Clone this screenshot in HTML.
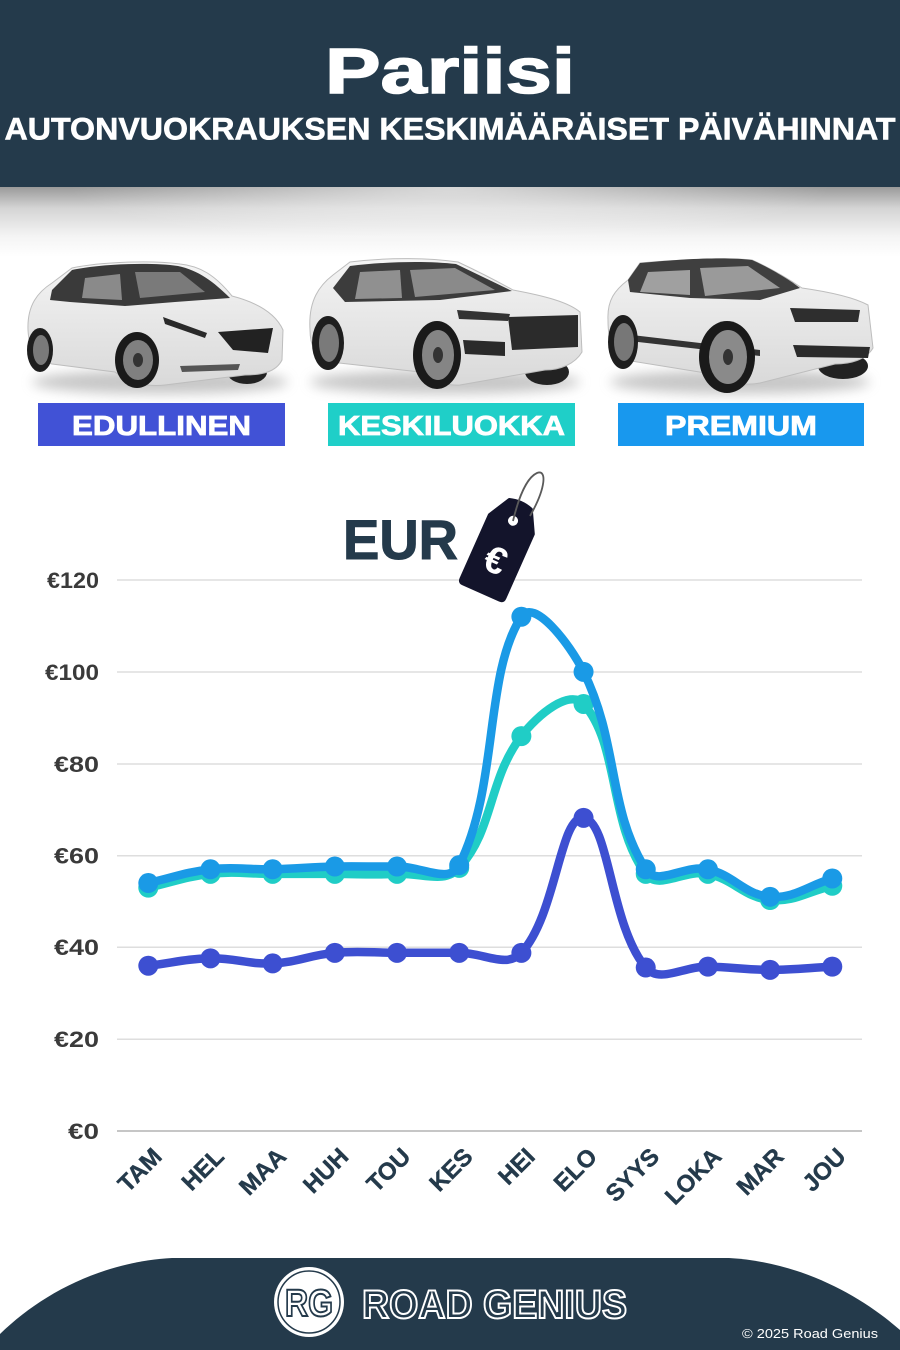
<!DOCTYPE html>
<html>
<head>
<meta charset="utf-8">
<style>
  html,body{margin:0;padding:0;background:#fff;}
  body{width:900px;height:1350px;overflow:hidden;}
  svg{display:block;}
  text{font-family:"Liberation Sans",sans-serif;}
</style>
</head>
<body>
<svg id="s" width="900" height="1350" viewBox="0 0 900 1350" xmlns="http://www.w3.org/2000/svg">
  <defs>
    <linearGradient id="shade" x1="0" y1="0" x2="0" y2="1">
      <stop offset="0" stop-color="#9a9a9a"/>
      <stop offset="0.3" stop-color="#d4d4d4"/>
      <stop offset="0.7" stop-color="#f4f4f4"/>
      <stop offset="1" stop-color="#ffffff"/>
    </linearGradient>
    <radialGradient id="hl" cx="0.5" cy="0.5" r="0.5">
      <stop offset="0" stop-color="#fff" stop-opacity="0.6"/>
      <stop offset="1" stop-color="#fff" stop-opacity="0"/>
    </radialGradient>
    <clipPath id="shclip"><rect x="0" y="187" width="900" height="70"/></clipPath>
    <linearGradient id="body" x1="0" y1="0" x2="0" y2="1">
      <stop offset="0" stop-color="#f4f4f4"/>
      <stop offset="1" stop-color="#d9d9d9"/>
    </linearGradient>
    <filter id="blur6" x="-20%" y="-100%" width="140%" height="300%"><feGaussianBlur stdDeviation="6"/></filter>
  </defs>

  <!-- Header -->
  <rect x="0" y="0" width="900" height="187" fill="#243a4b"/>
  <rect x="0" y="187" width="900" height="70" fill="url(#shade)"/>
  <g clip-path="url(#shclip)">
    <ellipse cx="450" cy="187" rx="380" ry="60" fill="url(#hl)"/>
  </g>
  <text x="450" y="93" text-anchor="middle" font-size="64" font-weight="bold" fill="#ffffff" stroke="#ffffff" stroke-width="1.5" textLength="250" lengthAdjust="spacingAndGlyphs">Pariisi</text>
  <text x="4.5" y="139.5" font-size="31.5" font-weight="bold" fill="#ffffff" stroke="#ffffff" stroke-width="0.6" textLength="891" lengthAdjust="spacingAndGlyphs">AUTONVUOKRAUKSEN KESKIMÄÄRÄISET PÄIVÄHINNAT</text>

  <!-- Car 1 -->
  <g>
    <ellipse cx="160" cy="382" rx="128" ry="12" fill="#999" opacity="0.55" filter="url(#blur6)"/>
    <ellipse cx="247" cy="372" rx="20" ry="12" fill="#222"/>
    <path d="M28,330 C27,305 38,292 52,283 L72,268 C100,262 150,260 180,264 C200,266 215,275 232,296 C255,302 275,312 283,330 L282,360 C276,372 262,375 245,375 L165,385 C148,387 128,383 115,372 L52,364 C36,360 29,350 28,330 Z" fill="url(#body)" stroke="#bdbdbd" stroke-width="1"/>
    <path d="M52,290 L72,270 C100,264 150,262 178,266 C198,270 214,282 230,298 L175,302 L125,306 L70,302 L50,300 Z" fill="#3a3a3a"/>
    <path d="M85,278 L120,274 L122,300 L82,298 Z" fill="#8a8a8a"/>
    <path d="M135,272 L180,272 L205,292 L140,298 Z" fill="#7a7a7a"/>
    <path d="M218,332 L273,328 L268,353 L233,350 Z" fill="#222"/>
    <path d="M163,317 L207,333 L205,338 L165,324 Z" fill="#2a2a2a"/>
    <path d="M180,366 L240,364 L238,370 L182,372 Z" fill="#555"/>
    <ellipse cx="40" cy="350" rx="13" ry="22" fill="#1e1e1e"/>
    <ellipse cx="41" cy="350" rx="8" ry="15" fill="#7a7a7a"/>
    <ellipse cx="137" cy="360" rx="22" ry="28" fill="#1a1a1a"/>
    <ellipse cx="138" cy="360" rx="15" ry="20" fill="#808080"/>
    <ellipse cx="138" cy="360" rx="5" ry="7" fill="#333"/>
  </g>

  <!-- Car 2 -->
  <g>
    <ellipse cx="445" cy="382" rx="135" ry="12" fill="#999" opacity="0.55" filter="url(#blur6)"/>
    <ellipse cx="547" cy="372" rx="22" ry="13" fill="#222"/>
    <path d="M310,330 C308,300 320,285 333,275 L350,262 C390,257 430,258 458,262 C475,270 495,280 513,290 C545,296 568,302 580,312 L582,352 C575,364 560,370 545,370 L460,385 C445,386 430,380 420,372 L330,362 C315,356 310,345 310,330 Z" fill="url(#body)" stroke="#bdbdbd" stroke-width="1"/>
    <path d="M333,288 L350,266 C390,261 430,261 456,264 L512,291 L440,300 L345,302 Z" fill="#3c3c3c"/>
    <path d="M360,272 L400,270 L402,298 L355,299 Z" fill="#909090"/>
    <path d="M410,270 L455,268 L495,290 L415,297 Z" fill="#8a8a8a"/>
    <path d="M508,317 L578,315 L578,347 L512,350 Z" fill="#2b2b2b"/>
    <path d="M457,310 L510,314 L508,321 L459,319 Z" fill="#333"/>
    <path d="M463,340 L505,342 L505,356 L465,354 Z" fill="#2a2a2a"/>
    <ellipse cx="328" cy="343" rx="16" ry="27" fill="#1e1e1e"/>
    <ellipse cx="329" cy="343" rx="10" ry="19" fill="#7a7a7a"/>
    <ellipse cx="437" cy="355" rx="24" ry="34" fill="#1a1a1a"/>
    <ellipse cx="438" cy="355" rx="16" ry="25" fill="#858585"/>
    <ellipse cx="438" cy="355" rx="5" ry="8" fill="#333"/>
  </g>

  <!-- Car 3 -->
  <g>
    <ellipse cx="740" cy="382" rx="130" ry="12" fill="#999" opacity="0.55" filter="url(#blur6)"/>
    <ellipse cx="843" cy="366" rx="25" ry="13" fill="#222"/>
    <path d="M608,320 C607,300 615,290 628,280 L640,263 C690,259 730,258 752,260 C770,268 790,280 802,288 C830,292 855,298 868,305 L873,348 C866,360 850,364 835,364 L760,383 C745,386 730,383 718,375 L625,360 C612,352 608,340 608,320 Z" fill="url(#body)" stroke="#bdbdbd" stroke-width="1"/>
    <path d="M628,280 L640,263 C690,258 730,257 752,260 C770,268 790,280 800,288 L760,300 L690,298 L630,292 Z" fill="#3f3f3f"/>
    <path d="M648,272 L690,270 L690,295 L640,292 Z" fill="#a0a0a0"/>
    <path d="M700,268 L748,266 L780,288 L705,296 Z" fill="#9a9a9a"/>
    <path d="M790,308 L860,310 L858,322 L795,322 Z" fill="#2e2e2e"/>
    <path d="M793,345 L870,347 L868,358 L797,357 Z" fill="#2a2a2a"/>
    <path d="M632,335 L760,350 L760,356 L630,341 Z" fill="#333"/>
    <ellipse cx="623" cy="342" rx="15" ry="27" fill="#1e1e1e"/>
    <ellipse cx="624" cy="342" rx="10" ry="19" fill="#777"/>
    <ellipse cx="727" cy="357" rx="28" ry="36" fill="#1a1a1a"/>
    <ellipse cx="728" cy="357" rx="19" ry="27" fill="#8a8a8a"/>
    <ellipse cx="728" cy="357" rx="5" ry="8" fill="#333"/>
  </g>

  <!-- Legend boxes -->
  <rect x="38" y="403" width="247" height="43" fill="#4152d6"/>
  <text x="161.5" y="435" text-anchor="middle" font-size="28" font-weight="bold" fill="#fff" stroke="#fff" stroke-width="0.8" textLength="179" lengthAdjust="spacingAndGlyphs">EDULLINEN</text>
  <rect x="328" y="403" width="247" height="43" fill="#1fcfc8"/>
  <text x="451.5" y="435" text-anchor="middle" font-size="28" font-weight="bold" fill="#fff" stroke="#fff" stroke-width="0.8" textLength="227" lengthAdjust="spacingAndGlyphs">KESKILUOKKA</text>
  <rect x="618" y="403" width="246" height="43" fill="#1898ee"/>
  <text x="741" y="435" text-anchor="middle" font-size="28" font-weight="bold" fill="#fff" stroke="#fff" stroke-width="0.8" textLength="152" lengthAdjust="spacingAndGlyphs">PREMIUM</text>

  <!-- Grid -->
  <g stroke="#dedede" stroke-width="1.5">
    <line x1="117" y1="580" x2="862" y2="580"/>
    <line x1="117" y1="672" x2="862" y2="672"/>
    <line x1="117" y1="764" x2="862" y2="764"/>
    <line x1="117" y1="855.7" x2="862" y2="855.7"/>
    <line x1="117" y1="947.3" x2="862" y2="947.3"/>
    <line x1="117" y1="1039.2" x2="862" y2="1039.2"/>
  </g>
  <line x1="117" y1="1131" x2="862" y2="1131" stroke="#c6c6c6" stroke-width="2"/>

  <g font-size="22" font-weight="bold" fill="#3a3a3a" text-anchor="end">
    <text x="99" y="588" textLength="52" lengthAdjust="spacingAndGlyphs">€120</text>
    <text x="99" y="680" textLength="54" lengthAdjust="spacingAndGlyphs">€100</text>
    <text x="99" y="772" textLength="45" lengthAdjust="spacingAndGlyphs">€80</text>
    <text x="99" y="863.5" textLength="45" lengthAdjust="spacingAndGlyphs">€60</text>
    <text x="99" y="955" textLength="45" lengthAdjust="spacingAndGlyphs">€40</text>
    <text x="99" y="1047" textLength="45" lengthAdjust="spacingAndGlyphs">€20</text>
    <text x="99" y="1139" textLength="31" lengthAdjust="spacingAndGlyphs">€0</text>
  </g>

  <!-- EUR tag -->
  <text x="343" y="559" font-size="56" font-weight="bold" fill="#243a4b" stroke="#243a4b" stroke-width="1" textLength="115" lengthAdjust="spacingAndGlyphs">EUR</text>
  <g transform="translate(500,550) rotate(24)">
    <path d="M-24,-28 L-12,-50 Q0,-54 12,-50 L24,-28 L24,42 Q24,46 20,46 L-20,46 Q-24,46 -24,42 Z" fill="#13142b" stroke="#13142b" stroke-width="3" stroke-linejoin="round"/>
    <circle cx="0" cy="-32" r="5" fill="#fff"/>
    <text x="0" y="24" text-anchor="middle" font-size="38" font-weight="bold" fill="#fff">€</text>
  </g>
  <path d="M513,521 C518,500 526,478 537,473 C547,469 546,488 530,516" fill="none" stroke="#5a5a5a" stroke-width="1.8"/>

  <!-- Series -->
  <g id="series" fill="none" stroke-linecap="round" stroke-linejoin="round"></g>

  <!-- X labels -->
  <g id="xl" font-size="24" font-weight="bold" fill="#243a4b" stroke="#243a4b" stroke-width="0.4" text-anchor="end"></g>

  <!-- Footer -->
  <path d="M0,1350 L0,1334 C40,1295 100,1262 172,1258 L729,1258 C800,1262 860,1295 900,1330 L900,1350 Z" fill="#243a4b"/>
  <circle cx="309" cy="1302" r="35" fill="#ffffff"/>
  <circle cx="309" cy="1302" r="31" fill="none" stroke="#243a4b" stroke-width="1.5"/>
  <text x="309" y="1316" text-anchor="middle" font-size="38" font-weight="bold" fill="#ffffff" stroke="#243a4b" stroke-width="2" textLength="48" lengthAdjust="spacingAndGlyphs">RG</text>
  <text x="362" y="1318" font-size="40" font-weight="bold" fill="#243a4b" stroke="#ffffff" stroke-width="2" textLength="265" lengthAdjust="spacingAndGlyphs">ROAD GENIUS</text>
  <text x="742" y="1338" font-size="13" fill="#ffffff" textLength="136" lengthAdjust="spacingAndGlyphs">© 2025 Road Genius</text>
</svg>
<script>
(function(){
  var NS="http://www.w3.org/2000/svg";
  var X0=148.3, DX=62.18, Y0=1131, K=4.5917, T=0.4;
  var series=[
    {c:"#3d4fd1", v:[36,37.6,36.5,38.8,38.8,38.8,38.8,68.2,35.6,35.8,35.1,35.8]},
    {c:"#20cdc6", v:[53,56,56,56,56,57.3,86,93,56,56,50.3,53.4]},
    {c:"#1a9ae6", v:[54,57,57,57.6,57.6,57.9,112,100,57,57,51,55]}
  ];
  var g=document.getElementById("series");
  function el(n,a){var e=document.createElementNS(NS,n);for(var k in a)e.setAttribute(k,a[k]);return e;}
  series.forEach(function(s){
    var p=s.v.map(function(v,i){return [X0+i*DX, Y0-v*K];});
    var cps=p.map(function(cur,i){
      var prev=p[i-1]||cur, next=p[i+1]||cur;
      var d01=Math.hypot(cur[0]-prev[0],cur[1]-prev[1]);
      var d12=Math.hypot(next[0]-cur[0],next[1]-cur[1]);
      var s01=d01/(d01+d12), s12=d12/(d01+d12);
      if(isNaN(s01))s01=0; if(isNaN(s12))s12=0;
      var fa=T*s01, fb=T*s12;
      return {
        p:[cur[0]-fa*(next[0]-prev[0]), cur[1]-fa*(next[1]-prev[1])],
        n:[cur[0]+fb*(next[0]-prev[0]), cur[1]+fb*(next[1]-prev[1])]
      };
    });
    var d="M"+p[0][0].toFixed(1)+","+p[0][1].toFixed(1);
    for(var i=0;i<p.length-1;i++){
      d+=" C"+cps[i].n[0].toFixed(1)+","+cps[i].n[1].toFixed(1)+" "+cps[i+1].p[0].toFixed(1)+","+cps[i+1].p[1].toFixed(1)+" "+p[i+1][0].toFixed(1)+","+p[i+1][1].toFixed(1);
    }
    g.appendChild(el("path",{d:d,stroke:s.c,"stroke-width":"8.5"}));
    p.forEach(function(q){g.appendChild(el("circle",{cx:q[0],cy:q[1],r:"10",fill:s.c,stroke:"none"}));});
  });
  var labels=["TAM","HEL","MAA","HUH","TOU","KES","HEI","ELO","SYYS","LOKA","MAR","JOU"];
  var xl=document.getElementById("xl");
  labels.forEach(function(t,i){
    var x=X0+i*DX+15, y=1158;
    var e=el("text",{x:x,y:y,transform:"rotate(-45 "+x+" "+y+")"});
    e.textContent=t; xl.appendChild(e);
  });
})();
</script>
</body>
</html>
